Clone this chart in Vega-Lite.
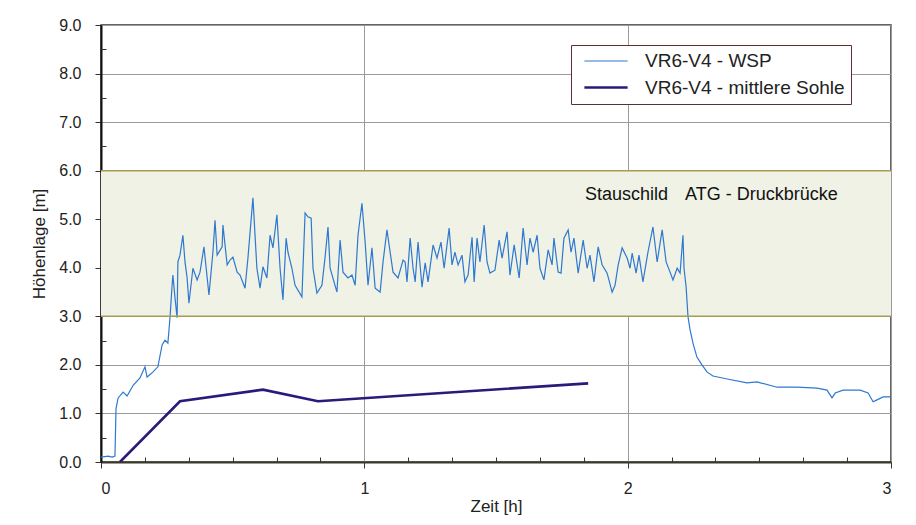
{
  "$schema": "https://vega.github.io/schema/vega-lite/v6.json",
  "width": 790,
  "height": 437,
  "autosize": {"type": "none"},
  "padding": {"left": 101, "top": 25, "right": 25, "bottom": 63},
  "background": "white",
  "config": {
    "font": "Liberation Sans",
    "view": {"stroke": "#333333", "strokeWidth": 1.5},
    "axis": {"labelFont": "Liberation Sans", "titleFont": "Liberation Sans", "labelColor": "#222222", "titleColor": "#222222", "titleFontWeight": "normal"}
  },
  "datasets": {
    "band": [{"lo": 3, "hi": 6}],
    "bandlines": [{"v": 3}, {"v": 6}],
    "notes": [
      {"t": 1.838, "h": 5.5, "label": "Stauschild"},
      {"t": 2.218, "h": 5.5, "label": "ATG - Druckbrücke"}
    ],
    "series": [
      {"series": "VR6-V4 - mittlere Sohle", "t": 0.072, "h": 0.0},
      {"series": "VR6-V4 - mittlere Sohle", "t": 0.300, "h": 1.25},
      {"series": "VR6-V4 - mittlere Sohle", "t": 0.615, "h": 1.49},
      {"series": "VR6-V4 - mittlere Sohle", "t": 0.824, "h": 1.25},
      {"series": "VR6-V4 - mittlere Sohle", "t": 1.850, "h": 1.62},
      {"series": "VR6-V4 - WSP", "t": 0.000, "h": 0.10},
      {"series": "VR6-V4 - WSP", "t": 0.027, "h": 0.12},
      {"series": "VR6-V4 - WSP", "t": 0.042, "h": 0.10},
      {"series": "VR6-V4 - WSP", "t": 0.053, "h": 0.12},
      {"series": "VR6-V4 - WSP", "t": 0.057, "h": 1.10},
      {"series": "VR6-V4 - WSP", "t": 0.065, "h": 1.32},
      {"series": "VR6-V4 - WSP", "t": 0.084, "h": 1.44},
      {"series": "VR6-V4 - WSP", "t": 0.099, "h": 1.36},
      {"series": "VR6-V4 - WSP", "t": 0.122, "h": 1.58},
      {"series": "VR6-V4 - WSP", "t": 0.148, "h": 1.73},
      {"series": "VR6-V4 - WSP", "t": 0.167, "h": 1.96},
      {"series": "VR6-V4 - WSP", "t": 0.175, "h": 1.75},
      {"series": "VR6-V4 - WSP", "t": 0.197, "h": 1.85},
      {"series": "VR6-V4 - WSP", "t": 0.216, "h": 1.96},
      {"series": "VR6-V4 - WSP", "t": 0.232, "h": 2.41},
      {"series": "VR6-V4 - WSP", "t": 0.243, "h": 2.51},
      {"series": "VR6-V4 - WSP", "t": 0.254, "h": 2.45},
      {"series": "VR6-V4 - WSP", "t": 0.262, "h": 2.97},
      {"series": "VR6-V4 - WSP", "t": 0.270, "h": 3.64},
      {"series": "VR6-V4 - WSP", "t": 0.273, "h": 3.85},
      {"series": "VR6-V4 - WSP", "t": 0.281, "h": 3.38},
      {"series": "VR6-V4 - WSP", "t": 0.289, "h": 2.97},
      {"series": "VR6-V4 - WSP", "t": 0.292, "h": 4.12},
      {"series": "VR6-V4 - WSP", "t": 0.300, "h": 4.26},
      {"series": "VR6-V4 - WSP", "t": 0.311, "h": 4.67},
      {"series": "VR6-V4 - WSP", "t": 0.319, "h": 4.12},
      {"series": "VR6-V4 - WSP", "t": 0.327, "h": 3.79},
      {"series": "VR6-V4 - WSP", "t": 0.334, "h": 3.27},
      {"series": "VR6-V4 - WSP", "t": 0.349, "h": 3.99},
      {"series": "VR6-V4 - WSP", "t": 0.365, "h": 3.75},
      {"series": "VR6-V4 - WSP", "t": 0.376, "h": 3.91},
      {"series": "VR6-V4 - WSP", "t": 0.391, "h": 4.43},
      {"series": "VR6-V4 - WSP", "t": 0.410, "h": 3.44},
      {"series": "VR6-V4 - WSP", "t": 0.425, "h": 4.32},
      {"series": "VR6-V4 - WSP", "t": 0.433, "h": 4.98},
      {"series": "VR6-V4 - WSP", "t": 0.441, "h": 4.26},
      {"series": "VR6-V4 - WSP", "t": 0.460, "h": 4.43},
      {"series": "VR6-V4 - WSP", "t": 0.463, "h": 4.88},
      {"series": "VR6-V4 - WSP", "t": 0.479, "h": 4.06},
      {"series": "VR6-V4 - WSP", "t": 0.490, "h": 4.16},
      {"series": "VR6-V4 - WSP", "t": 0.501, "h": 4.22},
      {"series": "VR6-V4 - WSP", "t": 0.517, "h": 3.91},
      {"series": "VR6-V4 - WSP", "t": 0.528, "h": 3.85},
      {"series": "VR6-V4 - WSP", "t": 0.547, "h": 3.58},
      {"series": "VR6-V4 - WSP", "t": 0.558, "h": 4.20},
      {"series": "VR6-V4 - WSP", "t": 0.577, "h": 5.44},
      {"series": "VR6-V4 - WSP", "t": 0.592, "h": 3.99},
      {"series": "VR6-V4 - WSP", "t": 0.604, "h": 3.58},
      {"series": "VR6-V4 - WSP", "t": 0.615, "h": 4.02},
      {"series": "VR6-V4 - WSP", "t": 0.630, "h": 3.79},
      {"series": "VR6-V4 - WSP", "t": 0.642, "h": 4.67},
      {"series": "VR6-V4 - WSP", "t": 0.653, "h": 4.41},
      {"series": "VR6-V4 - WSP", "t": 0.668, "h": 5.09},
      {"series": "VR6-V4 - WSP", "t": 0.680, "h": 3.99},
      {"series": "VR6-V4 - WSP", "t": 0.691, "h": 3.34},
      {"series": "VR6-V4 - WSP", "t": 0.703, "h": 4.61},
      {"series": "VR6-V4 - WSP", "t": 0.710, "h": 4.32},
      {"series": "VR6-V4 - WSP", "t": 0.725, "h": 3.99},
      {"series": "VR6-V4 - WSP", "t": 0.737, "h": 3.64},
      {"series": "VR6-V4 - WSP", "t": 0.763, "h": 3.40},
      {"series": "VR6-V4 - WSP", "t": 0.775, "h": 5.13},
      {"series": "VR6-V4 - WSP", "t": 0.786, "h": 5.05},
      {"series": "VR6-V4 - WSP", "t": 0.798, "h": 5.02},
      {"series": "VR6-V4 - WSP", "t": 0.805, "h": 3.99},
      {"series": "VR6-V4 - WSP", "t": 0.820, "h": 3.48},
      {"series": "VR6-V4 - WSP", "t": 0.839, "h": 3.64},
      {"series": "VR6-V4 - WSP", "t": 0.851, "h": 4.22},
      {"series": "VR6-V4 - WSP", "t": 0.862, "h": 4.84},
      {"series": "VR6-V4 - WSP", "t": 0.870, "h": 3.99},
      {"series": "VR6-V4 - WSP", "t": 0.896, "h": 3.50},
      {"series": "VR6-V4 - WSP", "t": 0.908, "h": 4.57},
      {"series": "VR6-V4 - WSP", "t": 0.919, "h": 3.91},
      {"series": "VR6-V4 - WSP", "t": 0.938, "h": 3.79},
      {"series": "VR6-V4 - WSP", "t": 0.953, "h": 3.85},
      {"series": "VR6-V4 - WSP", "t": 0.965, "h": 3.64},
      {"series": "VR6-V4 - WSP", "t": 0.976, "h": 4.67},
      {"series": "VR6-V4 - WSP", "t": 0.991, "h": 5.33},
      {"series": "VR6-V4 - WSP", "t": 1.003, "h": 4.53},
      {"series": "VR6-V4 - WSP", "t": 1.014, "h": 3.64},
      {"series": "VR6-V4 - WSP", "t": 1.029, "h": 4.41},
      {"series": "VR6-V4 - WSP", "t": 1.041, "h": 3.58},
      {"series": "VR6-V4 - WSP", "t": 1.060, "h": 3.50},
      {"series": "VR6-V4 - WSP", "t": 1.071, "h": 4.12},
      {"series": "VR6-V4 - WSP", "t": 1.086, "h": 4.78},
      {"series": "VR6-V4 - WSP", "t": 1.098, "h": 4.32},
      {"series": "VR6-V4 - WSP", "t": 1.109, "h": 3.91},
      {"series": "VR6-V4 - WSP", "t": 1.128, "h": 3.79},
      {"series": "VR6-V4 - WSP", "t": 1.147, "h": 4.16},
      {"series": "VR6-V4 - WSP", "t": 1.155, "h": 4.12},
      {"series": "VR6-V4 - WSP", "t": 1.162, "h": 3.71},
      {"series": "VR6-V4 - WSP", "t": 1.174, "h": 4.61},
      {"series": "VR6-V4 - WSP", "t": 1.185, "h": 3.99},
      {"series": "VR6-V4 - WSP", "t": 1.193, "h": 3.71},
      {"series": "VR6-V4 - WSP", "t": 1.204, "h": 4.53},
      {"series": "VR6-V4 - WSP", "t": 1.219, "h": 3.60},
      {"series": "VR6-V4 - WSP", "t": 1.231, "h": 4.10},
      {"series": "VR6-V4 - WSP", "t": 1.242, "h": 3.71},
      {"series": "VR6-V4 - WSP", "t": 1.261, "h": 4.47},
      {"series": "VR6-V4 - WSP", "t": 1.276, "h": 4.20},
      {"series": "VR6-V4 - WSP", "t": 1.291, "h": 4.53},
      {"series": "VR6-V4 - WSP", "t": 1.303, "h": 3.99},
      {"series": "VR6-V4 - WSP", "t": 1.322, "h": 4.82},
      {"series": "VR6-V4 - WSP", "t": 1.333, "h": 4.06},
      {"series": "VR6-V4 - WSP", "t": 1.344, "h": 4.32},
      {"series": "VR6-V4 - WSP", "t": 1.356, "h": 4.06},
      {"series": "VR6-V4 - WSP", "t": 1.371, "h": 4.26},
      {"series": "VR6-V4 - WSP", "t": 1.382, "h": 3.71},
      {"series": "VR6-V4 - WSP", "t": 1.394, "h": 3.85},
      {"series": "VR6-V4 - WSP", "t": 1.409, "h": 4.63},
      {"series": "VR6-V4 - WSP", "t": 1.417, "h": 3.71},
      {"series": "VR6-V4 - WSP", "t": 1.428, "h": 4.61},
      {"series": "VR6-V4 - WSP", "t": 1.439, "h": 4.12},
      {"series": "VR6-V4 - WSP", "t": 1.455, "h": 4.88},
      {"series": "VR6-V4 - WSP", "t": 1.466, "h": 4.12},
      {"series": "VR6-V4 - WSP", "t": 1.477, "h": 3.89},
      {"series": "VR6-V4 - WSP", "t": 1.496, "h": 3.95},
      {"series": "VR6-V4 - WSP", "t": 1.512, "h": 4.57},
      {"series": "VR6-V4 - WSP", "t": 1.523, "h": 4.20},
      {"series": "VR6-V4 - WSP", "t": 1.542, "h": 4.74},
      {"series": "VR6-V4 - WSP", "t": 1.553, "h": 3.85},
      {"series": "VR6-V4 - WSP", "t": 1.569, "h": 4.47},
      {"series": "VR6-V4 - WSP", "t": 1.588, "h": 3.79},
      {"series": "VR6-V4 - WSP", "t": 1.603, "h": 4.82},
      {"series": "VR6-V4 - WSP", "t": 1.618, "h": 4.06},
      {"series": "VR6-V4 - WSP", "t": 1.629, "h": 4.61},
      {"series": "VR6-V4 - WSP", "t": 1.641, "h": 4.32},
      {"series": "VR6-V4 - WSP", "t": 1.656, "h": 4.67},
      {"series": "VR6-V4 - WSP", "t": 1.667, "h": 3.99},
      {"series": "VR6-V4 - WSP", "t": 1.682, "h": 3.75},
      {"series": "VR6-V4 - WSP", "t": 1.698, "h": 4.37},
      {"series": "VR6-V4 - WSP", "t": 1.713, "h": 4.06},
      {"series": "VR6-V4 - WSP", "t": 1.720, "h": 4.61},
      {"series": "VR6-V4 - WSP", "t": 1.736, "h": 3.91},
      {"series": "VR6-V4 - WSP", "t": 1.747, "h": 3.89},
      {"series": "VR6-V4 - WSP", "t": 1.758, "h": 4.61},
      {"series": "VR6-V4 - WSP", "t": 1.774, "h": 4.78},
      {"series": "VR6-V4 - WSP", "t": 1.785, "h": 4.32},
      {"series": "VR6-V4 - WSP", "t": 1.796, "h": 4.61},
      {"series": "VR6-V4 - WSP", "t": 1.812, "h": 3.89},
      {"series": "VR6-V4 - WSP", "t": 1.831, "h": 4.57},
      {"series": "VR6-V4 - WSP", "t": 1.846, "h": 3.99},
      {"series": "VR6-V4 - WSP", "t": 1.857, "h": 4.26},
      {"series": "VR6-V4 - WSP", "t": 1.872, "h": 3.71},
      {"series": "VR6-V4 - WSP", "t": 1.888, "h": 4.43},
      {"series": "VR6-V4 - WSP", "t": 1.903, "h": 4.06},
      {"series": "VR6-V4 - WSP", "t": 1.922, "h": 3.89},
      {"series": "VR6-V4 - WSP", "t": 1.941, "h": 3.50},
      {"series": "VR6-V4 - WSP", "t": 1.952, "h": 3.64},
      {"series": "VR6-V4 - WSP", "t": 1.964, "h": 4.06},
      {"series": "VR6-V4 - WSP", "t": 1.979, "h": 4.41},
      {"series": "VR6-V4 - WSP", "t": 1.998, "h": 4.20},
      {"series": "VR6-V4 - WSP", "t": 2.009, "h": 3.99},
      {"series": "VR6-V4 - WSP", "t": 2.017, "h": 4.30},
      {"series": "VR6-V4 - WSP", "t": 2.032, "h": 3.89},
      {"series": "VR6-V4 - WSP", "t": 2.043, "h": 4.26},
      {"series": "VR6-V4 - WSP", "t": 2.058, "h": 3.71},
      {"series": "VR6-V4 - WSP", "t": 2.077, "h": 4.32},
      {"series": "VR6-V4 - WSP", "t": 2.096, "h": 4.84},
      {"series": "VR6-V4 - WSP", "t": 2.112, "h": 4.12},
      {"series": "VR6-V4 - WSP", "t": 2.131, "h": 4.78},
      {"series": "VR6-V4 - WSP", "t": 2.146, "h": 4.12},
      {"series": "VR6-V4 - WSP", "t": 2.161, "h": 3.91},
      {"series": "VR6-V4 - WSP", "t": 2.172, "h": 3.75},
      {"series": "VR6-V4 - WSP", "t": 2.188, "h": 3.99},
      {"series": "VR6-V4 - WSP", "t": 2.199, "h": 3.89},
      {"series": "VR6-V4 - WSP", "t": 2.210, "h": 4.67},
      {"series": "VR6-V4 - WSP", "t": 2.214, "h": 3.99},
      {"series": "VR6-V4 - WSP", "t": 2.222, "h": 3.60},
      {"series": "VR6-V4 - WSP", "t": 2.229, "h": 3.00},
      {"series": "VR6-V4 - WSP", "t": 2.237, "h": 2.72},
      {"series": "VR6-V4 - WSP", "t": 2.248, "h": 2.45},
      {"series": "VR6-V4 - WSP", "t": 2.263, "h": 2.16},
      {"series": "VR6-V4 - WSP", "t": 2.282, "h": 2.00},
      {"series": "VR6-V4 - WSP", "t": 2.302, "h": 1.85},
      {"series": "VR6-V4 - WSP", "t": 2.324, "h": 1.77},
      {"series": "VR6-V4 - WSP", "t": 2.378, "h": 1.71},
      {"series": "VR6-V4 - WSP", "t": 2.453, "h": 1.63},
      {"series": "VR6-V4 - WSP", "t": 2.491, "h": 1.65},
      {"series": "VR6-V4 - WSP", "t": 2.567, "h": 1.54},
      {"series": "VR6-V4 - WSP", "t": 2.643, "h": 1.54},
      {"series": "VR6-V4 - WSP", "t": 2.719, "h": 1.52},
      {"series": "VR6-V4 - WSP", "t": 2.757, "h": 1.48},
      {"series": "VR6-V4 - WSP", "t": 2.776, "h": 1.32},
      {"series": "VR6-V4 - WSP", "t": 2.788, "h": 1.42},
      {"series": "VR6-V4 - WSP", "t": 2.818, "h": 1.48},
      {"series": "VR6-V4 - WSP", "t": 2.883, "h": 1.48},
      {"series": "VR6-V4 - WSP", "t": 2.913, "h": 1.42},
      {"series": "VR6-V4 - WSP", "t": 2.932, "h": 1.24},
      {"series": "VR6-V4 - WSP", "t": 2.947, "h": 1.28},
      {"series": "VR6-V4 - WSP", "t": 2.970, "h": 1.34},
      {"series": "VR6-V4 - WSP", "t": 2.997, "h": 1.34}
    ]
  },
  "resolve": {"axis": {"x": "independent", "y": "independent"}},
  "layer": [
    {
      "data": {"name": "band"},
      "mark": {"type": "rect", "fill": "#eff2e5"},
      "encoding": {
        "y": {"field": "lo", "type": "quantitative", "scale": {"domain": [0, 9], "nice": false}, "axis": null},
        "y2": {"field": "hi"}
      }
    },
    {
      "data": {"name": "series"},
      "mark": {"type": "line", "clip": true},
      "encoding": {
        "x": {
          "field": "t", "type": "quantitative",
          "scale": {"domain": [0, 3], "nice": false},
          "axis": {
            "title": "Zeit [h]", "values": [0, 1, 2, 3], "format": "d",
            "grid": true, "gridColor": "#9a9a9a", "gridWidth": 1,
            "domainColor": "#3a3a2a", "domainWidth": 2,
            "tickColor": "#333333", "tickSize": 6,
            "labelFontSize": 16, "labelPadding": 12, "titleFontSize": 17, "titlePadding": 2
          }
        },
        "y": {
          "field": "h", "type": "quantitative",
          "scale": {"domain": [0, 9], "nice": false},
          "axis": {
            "title": "Höhenlage [m]", "values": [0, 1, 2, 3, 4, 5, 6, 7, 8, 9], "format": ".1f",
            "grid": true, "gridColor": "#9a9a9a", "gridWidth": 1,
            "domainColor": "#111111", "domainWidth": 2,
            "tickColor": "#333333", "tickSize": 6,
            "labelFontSize": 16, "labelPadding": 14, "titleFontSize": 17, "titlePadding": 10
          }
        },
        "color": {
          "field": "series", "type": "nominal",
          "scale": {"domain": ["VR6-V4 - WSP", "VR6-V4 - mittlere Sohle"], "range": ["#2f78d0", "#2a1a7a"]},
          "legend": {
            "title": null, "orient": "none", "legendX": 470, "legendY": 20,
            "direction": "vertical",
            "labelFont": "Liberation Sans", "labelFontSize": 19, "labelColor": "#222222",
            "symbolType": "M-2.4,0H2.4", "symbolSize": 324,
            "symbolOffset": 18.5, "labelOffset": 28.5,
            "rowPadding": 6, "padding": 6,
            "strokeColor": "#5a3030", "fillColor": "white", "labelLimit": 400
          }
        },
        "strokeWidth": {
          "field": "series", "type": "nominal",
          "scale": {"domain": ["VR6-V4 - WSP", "VR6-V4 - mittlere Sohle"], "range": [1.2, 2.6]},
          "legend": null
        },
        "order": {"field": "t", "type": "quantitative"}
      }
    },
    {
      "data": {"name": "bandlines"},
      "mark": {"type": "rule", "color": "#a89c50", "strokeWidth": 1.5},
      "encoding": {
        "y": {"field": "v", "type": "quantitative", "axis": null}
      }
    },
    {
      "data": {"name": "notes"},
      "mark": {"type": "text", "align": "left", "baseline": "middle", "fontSize": 18, "color": "#111111", "font": "Liberation Sans"},
      "encoding": {
        "x": {
          "field": "t", "type": "quantitative",
          "axis": {"values": [0.1667, 0.3333, 0.5, 0.6667, 0.8333, 1.1667, 1.3333, 1.5, 1.6667, 1.8333, 2.1667, 2.3333, 2.5, 2.6667, 2.8333], "labels": false, "grid": false, "domain": false, "tickSize": -5, "tickColor": "#333333", "title": null, "orient": "bottom"}
        },
        "y": {
          "field": "h", "type": "quantitative",
          "axis": {"values": [0.5, 1.5, 2.5, 3.5, 4.5, 5.5, 6.5, 7.5, 8.5], "labels": false, "grid": false, "domain": false, "tickSize": -5, "tickColor": "#333333", "title": null, "orient": "left"}
        },
        "text": {"field": "label"}
      }
    }
  ]
}
